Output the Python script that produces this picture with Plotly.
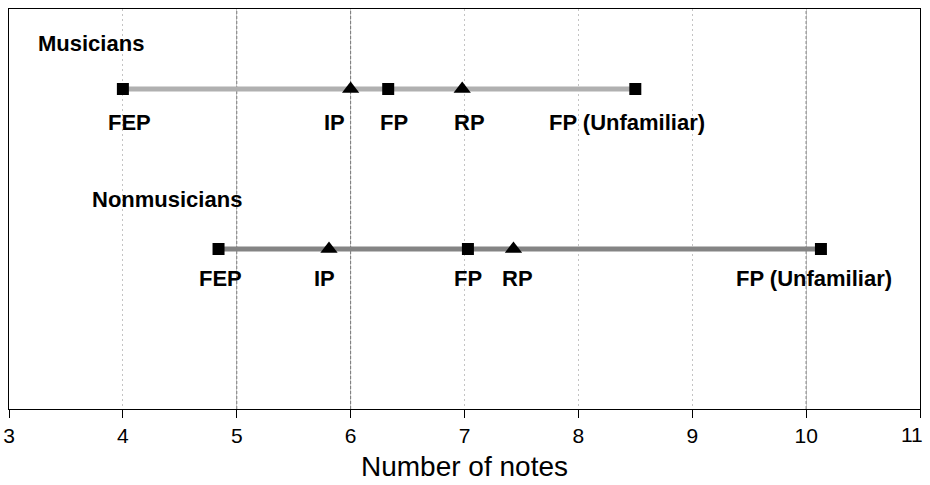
import plotly.graph_objects as go

labels = ["FEP", "IP", "FP", "RP", "FP (Unfamiliar)"]
symbols = ["square", "triangle-up", "square", "triangle-up", "square"]
musicians_x = [4.0, 6.0, 6.33, 6.98, 8.5]
nonmusicians_x = [4.84, 5.81, 7.03, 7.43, 10.13]
group_names = ["Musicians", "Nonmusicians"]
group_y = [8, 4]
x_ticks = [3, 4, 5, 6, 7, 8, 9, 10, 11]
dark_grid = [5, 6, 10]

# label offsets (pixels) relative to markers
mus_shift = [7, -16, 6, 7, -8]
non_shift = [2, -4, 0, 4, -7]
label_drop = [-33, -29]

FONT = "Liberation Sans, Arial, Helvetica, sans-serif"

fig = go.Figure()

line_colors = ["#b0b0b0", "#848484"]
for xs, gy, lc in zip([musicians_x, nonmusicians_x], group_y, line_colors):
    fig.add_trace(go.Scatter(
        x=[min(xs), max(xs)], y=[gy, gy], mode="lines",
        line=dict(color=lc, width=5), hoverinfo="skip", showlegend=False))
    fig.add_trace(go.Scatter(
        x=xs, y=[gy] * len(xs), mode="markers",
        marker=dict(symbol=symbols,
                    size=[12 if s == "square" else 15 for s in symbols],
                    color="#000000", opacity=1, line=dict(width=0, color="#000000")),
        showlegend=False))

font_lab = dict(family=FONT, size=22, color="black")
tick_font = dict(family=FONT, size=21, color="black")
annotations = []
for xs, gy, shifts, drop in zip([musicians_x, nonmusicians_x], group_y,
                                [mus_shift, non_shift], label_drop):
    for lab, xv, sh in zip(labels, xs, shifts):
        annotations.append(dict(x=xv, y=gy, xref="x", yref="y", text="<b>%s</b>" % lab,
                                showarrow=False, yshift=drop, xshift=sh, font=font_lab))
annotations.append(dict(x=3.24, y=9.15, xref="x", yref="y", text="<b>%s</b>" % group_names[0],
                        showarrow=False, xanchor="left", font=font_lab))
annotations.append(dict(x=3.71, y=5.25, xref="x", yref="y", text="<b>%s</b>" % group_names[1],
                        showarrow=False, xanchor="left", font=font_lab))

# last tick label is nudged left (as in the reference) so it stays inside the page
tick_text = [str(t) for t in x_ticks]
last_label = tick_text[-1]
tick_text[-1] = ""
annotations.append(dict(x=x_ticks[-1], y=0, xref="x", yref="paper", text=last_label,
                        showarrow=False, xanchor="right", yanchor="middle",
                        xshift=5, yshift=-25, font=tick_font))

shapes = [dict(type="line", xref="x", yref="paper", x0=g, x1=g, y0=0, y1=1,
               line=dict(color="#707070", width=1, dash="3px,2px"), layer="below")
          for g in dark_grid]

fig.update_layout(
    width=930, height=485,
    margin=dict(l=9, r=10, t=9, b=76, autoexpand=False),
    plot_bgcolor="white", paper_bgcolor="white",
    annotations=annotations, shapes=shapes,
    xaxis=dict(range=[3, 11], tickvals=x_ticks, ticktext=tick_text,
               showgrid=True, gridcolor="#c4c4c4", griddash="2px,3px", gridwidth=1,
               ticks="outside", ticklen=8, tickcolor="black", tickwidth=1,
               showline=True, linecolor="black", linewidth=1, mirror=True,
               zeroline=False, automargin=False, ticklabeloverflow="allow",
               tickfont=tick_font,
               title=dict(text="Number of notes", standoff=10,
                          font=dict(family=FONT, size=28, color="black"))),
    yaxis=dict(range=[0, 10], showgrid=False, showticklabels=False, ticks="",
               showline=True, linecolor="black", linewidth=1, mirror=True,
               zeroline=False, automargin=False),
)

fig.write_html("out.html", config={"displayModeBar": False},
               post_script="document.body.style.margin='0px';")
